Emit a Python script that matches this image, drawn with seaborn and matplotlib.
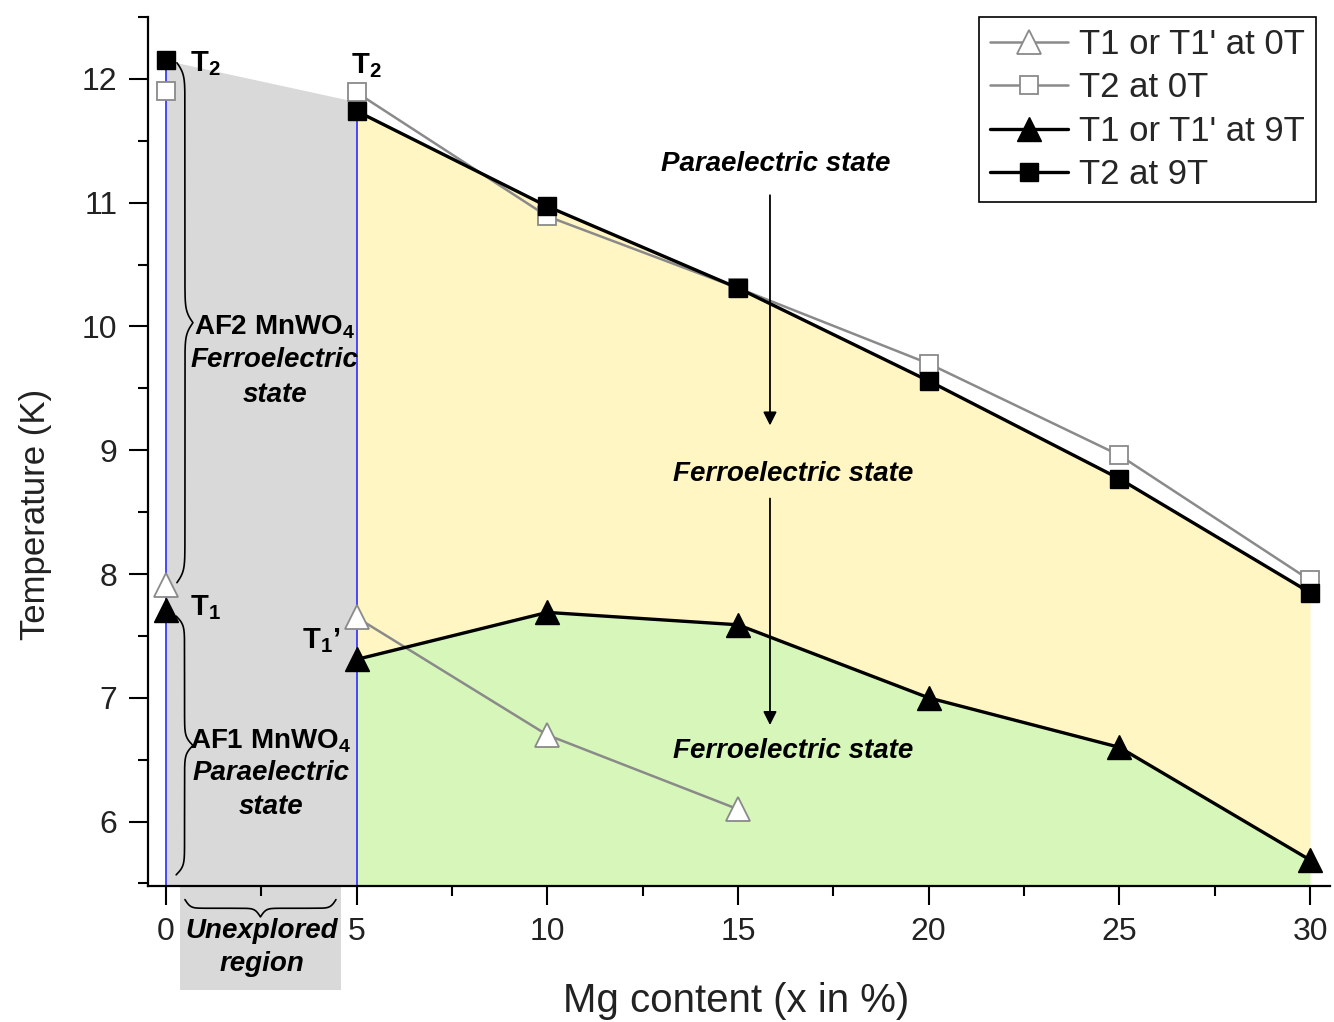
import numpy as np
import matplotlib
matplotlib.use("Agg")
import matplotlib.pyplot as plt
import seaborn as sns
from matplotlib.patches import Rectangle
from matplotlib.ticker import MultipleLocator

# ---------------- data ----------------
mg = [0, 5, 10, 15, 20, 25, 30]
t2_0T = [11.90, 11.89, 10.89, 10.31, 9.70, 8.96, 7.95]
t2_9T = [12.15, 11.74, 10.97, 10.31, 9.56, 8.77, 7.85]
mg_t1_0T = [0, 5, 10, 15]
t1_0T = [7.91, 7.65, 6.70, 6.10]
t1_9T = [7.71, 7.31, 7.69, 7.59, 7.00, 6.60, 5.69]
legend_labels = ["T1 or T1' at 0T", "T2 at 0T", "T1 or T1' at 9T", "T2 at 9T"]
x_ticks = [0, 5, 10, 15, 20, 25, 30]
y_ticks = [6, 7, 8, 9, 10, 11, 12]

# ---------------- style ----------------
sns.set_theme(style="ticks")
plt.rcParams['font.family'] = ['Liberation Sans', 'DejaVu Sans']
plt.rcParams['mathtext.fontset'] = 'custom'
plt.rcParams['mathtext.rm'] = 'Liberation Sans'
plt.rcParams['mathtext.bf'] = 'Liberation Sans:bold'
plt.rcParams['mathtext.it'] = 'Liberation Sans:italic'

fig = plt.figure(figsize=(13.34, 10.22), dpi=100, facecolor='white')
ax = fig.add_axes([0.1109, 0.1331, 0.886, 0.8503])
ax.set_facecolor('white')
xlim = (-0.47, 30.52)
ylim = (5.48, 12.5)
ax.set_xlim(*xlim)
ax.set_ylim(*ylim)
ybot = ylim[0]

GREY = '#d9d9d9'
YEL = '#fff6c3'
GRN = '#d6f6ba'
BLUE = '#3a3aff'
GRAY_LINE = '#8a8a8a'

# ---------------- filled regions ----------------
ax.fill_between(mg[:2], [t2_9T[0], (t2_0T[1] + t2_9T[1]) / 2], ybot,
                color=GREY, lw=0, zorder=0.6)
ax.fill_between(mg[1:], t1_9T[1:], t2_9T[1:], color=YEL, lw=0, zorder=0.6)
ax.fill_between(mg[1:], ybot, t1_9T[1:], color=GRN, lw=0, zorder=0.6)
# unexplored box below the axis
rect = Rectangle((0.37, 4.64), 4.22, ybot - 4.64, facecolor=GREY, edgecolor='none',
                 clip_on=False, zorder=0.6)
ax.add_patch(rect)

# vertical blue lines
ax.plot([mg[0], mg[0]], [ybot, t2_9T[0]], color=BLUE, lw=1.3, zorder=1.5)
ax.plot([mg[1], mg[1]], [ybot, t2_9T[1]], color=BLUE, lw=1.3, zorder=1.5)

# ---------------- series ----------------
kw0 = dict(color=GRAY_LINE, lw=1.8, markerfacecolor='white',
           markeredgecolor=GRAY_LINE, markeredgewidth=1.3)
kw9 = dict(color='black', lw=2.4, markerfacecolor='black',
           markeredgecolor='black', markeredgewidth=1.0)

sns.lineplot(x=mg_t1_0T[1:], y=t1_0T[1:], marker='^', markersize=17,
             label=legend_labels[0], ax=ax, zorder=3, **kw0)
sns.lineplot(x=mg[1:], y=t2_0T[1:], marker='s', markersize=12.5,
             label=legend_labels[1], ax=ax, zorder=3, **kw0)
sns.lineplot(x=mg[1:], y=t1_9T[1:], marker='^', markersize=17,
             label=legend_labels[2], ax=ax, zorder=4, **kw9)
sns.lineplot(x=mg[1:], y=t2_9T[1:], marker='s', markersize=12.5,
             label=legend_labels[3], ax=ax, zorder=4, **kw9)

# isolated x=0 points (not connected)
ax.plot([mg_t1_0T[0]], [t1_0T[0]], marker='^', markersize=17, ls='none', zorder=3, **kw0)
ax.plot([mg[0]], [t2_0T[0]], marker='s', markersize=12.5, ls='none', zorder=3, **kw0)
ax.plot([mg[0]], [t1_9T[0]], marker='^', markersize=17, ls='none', zorder=4, **kw9)
ax.plot([mg[0]], [t2_9T[0]], marker='s', markersize=12.5, ls='none', zorder=4, **kw9)

# ---------------- braces ----------------
def brace_profile(n, sharp):
    t = np.linspace(0, 1, n)
    half = t[: n // 2 + 1]
    h = 1 / (1 + np.exp(-sharp * (half - half[0]))) + 1 / (1 + np.exp(-sharp * (half - half[-1])))
    prof = np.concatenate((h, h[-2::-1])) - 0.5
    return np.linspace(0, 1, len(prof)), prof

def vbrace(ax, x, y0, y1, w, sharp):
    s, p = brace_profile(401, sharp)
    ax.plot(x + w * p, y0 + (y1 - y0) * s, color='black', lw=1.2, zorder=5, clip_on=False)

def hbrace(ax, y, x0, x1, w, sharp):
    s, p = brace_profile(401, sharp)
    ax.plot(x0 + (x1 - x0) * s, y + w * p, color='black', lw=1.2, zorder=5, clip_on=False)

vbrace(ax, 0.29, 7.93, 12.13, 0.42, 90)
vbrace(ax, 0.27, 5.57, 7.66, 0.44, 60)
hbrace(ax, 5.37, 0.50, 4.46, -0.14, 55)

# ---------------- text annotations ----------------
bold = dict(fontweight='bold', color='black', zorder=6)
bi = dict(fontweight='bold', fontstyle='italic', color='black', zorder=6)

ax.text(0.63, 12.12, r"T$_\mathbf{2}$", fontsize=21, ha='left', va='center', **bold)
ax.text(5.25, 12.11, r"T$_\mathbf{2}$", fontsize=21, ha='center', va='center', **bold)
ax.text(0.63, 7.73, r"T$_\mathbf{1}$", fontsize=21, ha='left', va='center', **bold)
ax.text(4.58, 7.46, r"T$_\mathbf{1}$’", fontsize=21, ha='right', va='center', **bold)

ax.text(2.86, 9.99, r"AF2 MnWO$_\mathbf{4}$", fontsize=20, ha='center', va='center', **bold)
ax.text(2.86, 9.73, "Ferroelectric", fontsize=20, ha='center', va='center', **bi)
ax.text(2.86, 9.45, "state", fontsize=20, ha='center', va='center', **bi)

ax.text(2.75, 6.65, r"AF1 MnWO$_\mathbf{4}$", fontsize=20, ha='center', va='center', **bold)
ax.text(2.75, 6.39, "Paraelectric", fontsize=20, ha='center', va='center', **bi)
ax.text(2.75, 6.12, "state", fontsize=20, ha='center', va='center', **bi)

ax.text(2.52, 5.12, "Unexplored", fontsize=20, ha='center', va='center', clip_on=False, **bi)
ax.text(2.52, 4.85, "region", fontsize=20, ha='center', va='center', clip_on=False, **bi)

ax.text(16.0, 11.31, "Paraelectric state", fontsize=20, ha='center', va='center', **bi)
ax.text(16.44, 8.81, "Ferroelectric state", fontsize=20, ha='center', va='center', **bi)
ax.text(16.44, 6.57, "Ferroelectric state", fontsize=20, ha='center', va='center', **bi)

arrow = dict(arrowstyle='-|>', color='black', lw=1.3, mutation_scale=20, shrinkA=0, shrinkB=0)
ax.annotate("", xy=(15.84, 9.20), xytext=(15.84, 11.06), arrowprops=arrow, zorder=6)
ax.annotate("", xy=(15.84, 6.78), xytext=(15.84, 8.61), arrowprops=arrow, zorder=6)

# ---------------- axes ----------------
sns.despine(ax=ax, top=True, right=True)
ax.set_axisbelow(False)
for sp in ['left', 'bottom']:
    ax.spines[sp].set_linewidth(1.6)
    ax.spines[sp].set_color('black')
    ax.spines[sp].set_zorder(2.5)
ax.set_xticks(x_ticks)
ax.set_yticks(y_ticks)
ax.xaxis.set_minor_locator(MultipleLocator(2.5))
ax.yaxis.set_minor_locator(MultipleLocator(0.5))
ax.tick_params(axis='both', which='major', direction='out', length=14, width=1.5,
               labelsize=23, color='black', labelcolor='#222222')
ax.tick_params(axis='x', which='major', pad=8)
ax.tick_params(axis='y', which='major', pad=8)
ax.tick_params(axis='both', which='minor', direction='out', length=7, width=1.5, color='black')

ax.set_xlabel("Mg content (x in %)", fontsize=29, color='#222222')
ax.set_ylabel("Temperature (K)", fontsize=25, color='#222222')
ax.xaxis.set_label_coords(0.498, -0.111)
ax.yaxis.set_label_coords(-0.081, 0.427)

leg = ax.legend(loc='upper right', bbox_to_anchor=(0.988, 1.0), borderaxespad=0,
                fontsize=25, frameon=True, fancybox=False, shadow=False,
                borderpad=0.32, labelspacing=0.3, handlelength=2.25, handletextpad=0.3)
leg.get_frame().set_edgecolor('black')
leg.get_frame().set_linewidth(1.2)
leg.get_frame().set_facecolor('white')
leg.get_frame().set_alpha(1)
leg.set_zorder(10)

fig.savefig("out.png", dpi=100, facecolor='white')
